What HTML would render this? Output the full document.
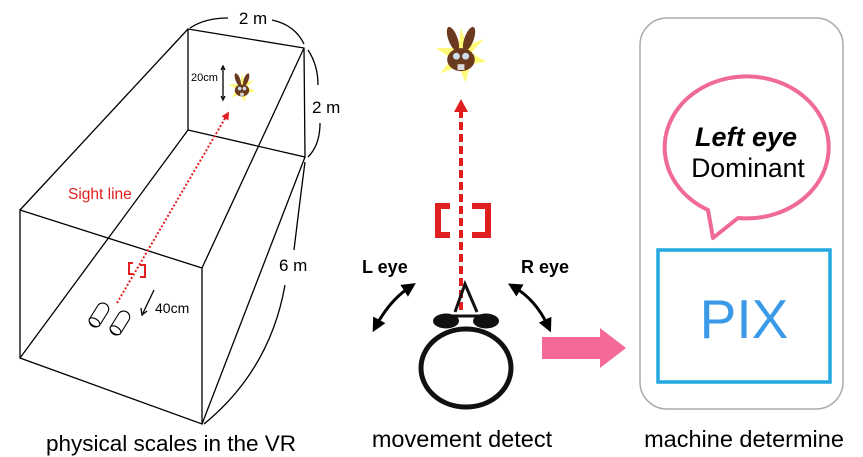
<!DOCTYPE html>
<html><head><meta charset="utf-8"><style>
html,body{margin:0;padding:0;background:#fff;}
svg{display:block;}
text{font-family:"Liberation Sans",Arial,sans-serif;}
</style></head><body>
<svg width="863" height="457" viewBox="0 0 863 457" xmlns="http://www.w3.org/2000/svg">
<defs>
<marker id="ar" markerWidth="8" markerHeight="8" refX="4" refY="4" orient="auto" markerUnits="userSpaceOnUse"><path d="M0,0 L8,4 L0,8 z" fill="#e02020"/></marker>
<marker id="bk2" markerWidth="14" markerHeight="14" refX="7" refY="7" orient="auto-start-reverse" markerUnits="userSpaceOnUse"><path d="M0,0 L14,7 L0,14 z" fill="#000"/></marker>
<g id="bunny">
<polygon points="0,-24 5,-8 20,-14 9,-2 22,6 8,8 4,24 -2,10 -18,16 -8,3 -22,-6 -7,-6 -12,-20 -2,-10" fill="#fff86a" opacity="0.9"/>
<ellipse cx="-7" cy="-14" rx="4" ry="11" transform="rotate(-20 -7 -14)" fill="#6b3a1e"/>
<ellipse cx="7" cy="-14" rx="4" ry="11" transform="rotate(20 7 -14)" fill="#6b3a1e"/>
<ellipse cx="0" cy="4" rx="12" ry="10" fill="#6b3a1e"/>
<circle cx="-4" cy="1" r="3" fill="#cde"/><circle cx="4" cy="1" r="3" fill="#cde"/>
<rect x="-3" y="8" width="6" height="5" fill="#ddd"/>
</g>
<g id="cyl" stroke="#000" stroke-width="1.1" fill="#fff">
<rect x="-13" y="-6" width="26" height="12" rx="6"/>
<ellipse cx="-8.5" cy="0" rx="3.5" ry="6"/>
</g>
</defs>

<!-- Left: box -->
<g stroke="#000" stroke-width="1.3" fill="none">
<polygon points="188,29 304,48 305,157 188,130"/>
<polygon points="20,210 202,268 202,424 20,358"/>
<line x1="188" y1="29" x2="20" y2="210"/>
<line x1="304" y1="48" x2="202" y2="268"/>
<line x1="305" y1="157" x2="202" y2="424"/>
<line x1="188" y1="130" x2="20" y2="358"/>
<path d="M190,28 Q205,18 228,18"/><path d="M272,20 Q295,25 304,44"/>
<path d="M308,50 Q318,65 318,85"/><path d="M320,123 Q320,145 308,157"/>
<path d="M305,162 Q300,200 294,250"/><path d="M285,285 Q270,370 204,424"/>
<line x1="223" y1="68" x2="223" y2="98"/>
<path d="M221,70 L223,66 L225,70 M221,96 L223,100 L225,96"/>
<line x1="154" y1="290" x2="143" y2="313"/>
<path d="M141,308 L142,315 L147,311"/>
</g>
<use href="#cyl" transform="translate(99,315) rotate(-58)"/>
<use href="#cyl" transform="translate(120,323) rotate(-58)"/>
<use href="#bunny" transform="translate(242,88) scale(0.6)"/>
<text x="191" y="81" font-size="11">20cm</text>
<text x="253" y="24" font-size="17" text-anchor="middle">2 m</text>
<text x="312" y="113" font-size="17">2 m</text>
<text x="279" y="271" font-size="17">6 m</text>
<text x="155" y="313" font-size="14">40cm</text>
<text x="68" y="199" font-size="15.5" fill="#e02020">Sight line</text>
<line x1="117" y1="303" x2="227" y2="115" stroke="#e02020" stroke-width="2" stroke-dasharray="2,2" marker-end="url(#ar)"/>
<path d="M133,263 L129,263 L129,274 L133,274 M140,265 L145,265 L145,277 L140,277" stroke="#e02020" stroke-width="2" fill="none"/>
<text x="171" y="451" font-size="22.5" text-anchor="middle">physical scales in the VR</text>

<!-- Middle -->
<use href="#bunny" transform="translate(461,55) scale(1.15)"/>
<line x1="461" y1="310" x2="461" y2="112" stroke="#e02020" stroke-width="4" stroke-dasharray="8,4"/>
<path d="M454,112 L461,99 L468,112 z" fill="#e02020"/>
<path d="M450,206 L438,206 L438,235 L450,235 M472,206 L488,206 L488,235 L472,235" stroke="#e02020" stroke-width="6" fill="none"/>
<ellipse cx="466" cy="368" rx="45" ry="39" stroke="#111" stroke-width="5" fill="none"/>
<path d="M455,312 L465,284 L477,312" stroke="#111" stroke-width="3" fill="none"/>
<line x1="445" y1="316" x2="487" y2="316" stroke="#111" stroke-width="3"/>
<ellipse cx="446" cy="321" rx="13" ry="7.5" fill="#111"/>
<ellipse cx="486" cy="321" rx="13" ry="7.5" fill="#111"/>
<text x="362" y="273" font-size="18" font-weight="bold">L eye</text>
<text x="521" y="273" font-size="18" font-weight="bold">R eye</text>
<path d="M410,287 Q390,300 376,326" stroke="#000" stroke-width="3" fill="none" marker-start="url(#bk2)" marker-end="url(#bk2)"/>
<path d="M514,287 Q536,300 548,326" stroke="#000" stroke-width="3" fill="none" marker-start="url(#bk2)" marker-end="url(#bk2)"/>
<path d="M542,337 L600,337 L600,328 L626,348 L600,368 L600,359 L542,359 z" fill="#f5699a"/>
<text x="462" y="447" font-size="23.5" text-anchor="middle">movement detect</text>

<!-- Right -->
<rect x="640" y="18" width="203" height="391" rx="27" stroke="#aaa" stroke-width="1.5" fill="none"/>
<path d="M708,210 A82,71 0 1 1 738,218 L713,238 Z" stroke="#f06a98" stroke-width="4" fill="#fff" stroke-linejoin="round"/>
<text x="746" y="146" font-size="27" font-weight="bold" font-style="italic" text-anchor="middle">Left eye</text>
<text x="748" y="177" font-size="26.5" text-anchor="middle">Dominant</text>
<rect x="658" y="250" width="172" height="132" stroke="#23a9e1" stroke-width="3.5" fill="none"/>
<text x="744" y="338" font-size="55" fill="#3a9ae8" text-anchor="middle">PIX</text>
<text x="744" y="447" font-size="23.5" text-anchor="middle">machine determine</text>
</svg>
</body></html>
